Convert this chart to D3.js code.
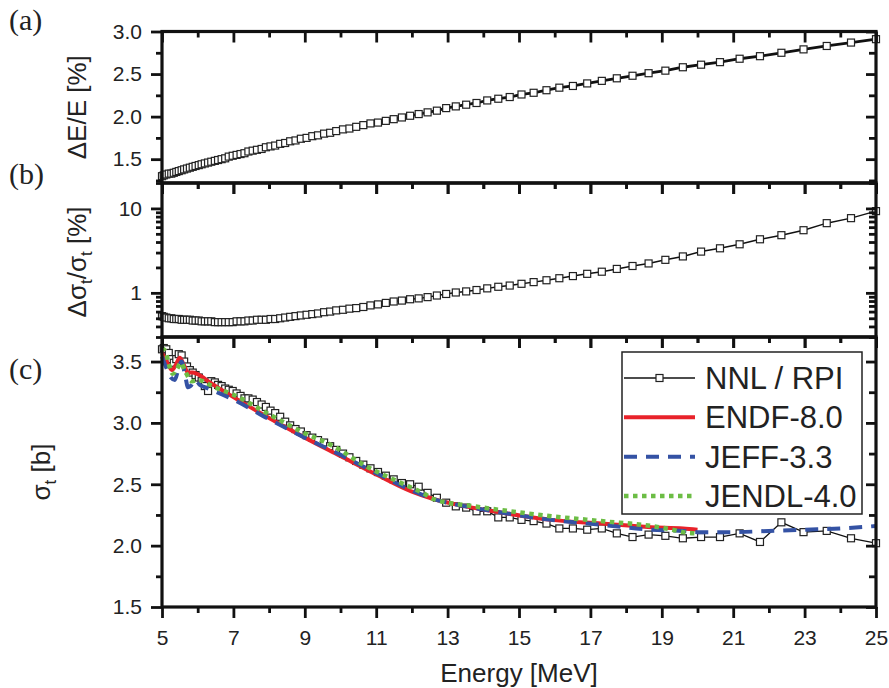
<!DOCTYPE html>
<html>
<head>
<meta charset="utf-8">
<script src="https://cdn.jsdelivr.net/npm/d3@7"></script>
<style>
  body { margin: 0; background: #fff; }
  svg { display: block; font-family: "Liberation Sans", Arial, sans-serif; }
</style>
</head>
<body>
<div id="chart"></div>
<script>
// energy grid of the NNL / RPI points [MeV]
const energy = [5.00, 5.05, 5.12, 5.19, 5.26, 5.33, 5.40, 5.47, 5.55, 5.62, 5.70, 5.78, 5.86, 5.94, 6.03, 6.11, 6.20, 6.29, 6.38, 6.48,
  6.57, 6.67, 6.77, 6.87, 6.98, 7.09, 7.20, 7.31, 7.42, 7.54, 7.66, 7.79, 7.91, 8.04, 8.17, 8.31, 8.45, 8.59, 8.74, 8.89,
  9.05, 9.21, 9.37, 9.54, 9.71, 9.88, 10.07, 10.25, 10.44, 10.64, 10.84, 11.05, 11.27, 11.49, 11.72, 11.95, 12.19, 12.44, 12.70, 12.96,
  13.23, 13.52, 13.81, 14.11, 14.42, 14.74, 15.07, 15.41, 15.77, 16.13, 16.51, 16.91, 17.32, 17.74, 18.18, 18.63, 19.10, 19.59, 20.10, 20.63,
  21.18, 21.75, 22.35, 22.97, 23.62, 24.30, 25.00];

// (a) energy resolution [%]
const dEoverE = [1.30, 1.31, 1.32, 1.33, 1.33, 1.34, 1.35, 1.36, 1.37, 1.38, 1.39, 1.40, 1.41, 1.42, 1.43, 1.44, 1.45, 1.46, 1.47, 1.48,
  1.49, 1.50, 1.51, 1.53, 1.54, 1.55, 1.56, 1.57, 1.59, 1.60, 1.61, 1.62, 1.64, 1.65, 1.66, 1.68, 1.69, 1.71, 1.72, 1.74,
  1.75, 1.77, 1.78, 1.80, 1.81, 1.83, 1.85, 1.86, 1.88, 1.90, 1.92, 1.93, 1.95, 1.97, 1.99, 2.01, 2.03, 2.05, 2.07, 2.10,
  2.12, 2.14, 2.16, 2.19, 2.21, 2.23, 2.26, 2.28, 2.31, 2.34, 2.36, 2.39, 2.42, 2.45, 2.48, 2.51, 2.54, 2.58, 2.61, 2.64,
  2.68, 2.71, 2.75, 2.79, 2.83, 2.87, 2.91];

// (b) relative uncertainty of sigma_t [%]
const dSigma = [0.53, 0.52, 0.51, 0.50, 0.50, 0.49, 0.49, 0.49, 0.48, 0.48, 0.48, 0.48, 0.47, 0.47, 0.47, 0.46, 0.46, 0.46, 0.46, 0.45,
  0.45, 0.45, 0.45, 0.45, 0.45, 0.46, 0.46, 0.46, 0.47, 0.47, 0.48, 0.48, 0.48, 0.49, 0.49, 0.50, 0.51, 0.52, 0.53, 0.54,
  0.55, 0.56, 0.57, 0.59, 0.60, 0.62, 0.63, 0.65, 0.66, 0.68, 0.71, 0.73, 0.76, 0.79, 0.81, 0.84, 0.86, 0.89, 0.93, 0.97,
  1.01, 1.04, 1.08, 1.13, 1.18, 1.22, 1.28, 1.34, 1.41, 1.49, 1.58, 1.68, 1.78, 1.92, 2.08, 2.23, 2.46, 2.70, 3.08, 3.37,
  3.76, 4.31, 4.82, 5.52, 6.69, 7.67, 9.29];

// (c) total cross section [b]
const sigmaT = [3.60, 3.61, 3.60, 3.57, 3.52, 3.49, 3.52, 3.56, 3.55, 3.50, 3.46, 3.43, 3.41, 3.39, 3.37, 3.34, 3.30, 3.26, 3.34, 3.33,
  3.31, 3.30, 3.28, 3.27, 3.26, 3.24, 3.22, 3.20, 3.20, 3.19, 3.17, 3.15, 3.13, 3.10, 3.08, 3.05, 3.01, 2.98, 2.95, 2.93,
  2.90, 2.88, 2.86, 2.84, 2.81, 2.78, 2.75, 2.72, 2.69, 2.66, 2.63, 2.60, 2.57, 2.54, 2.51, 2.50, 2.48, 2.43, 2.39, 2.35,
  2.32, 2.31, 2.28, 2.28, 2.23, 2.23, 2.21, 2.20, 2.18, 2.14, 2.14, 2.13, 2.14, 2.10, 2.07, 2.09, 2.08, 2.06, 2.07, 2.07,
  2.10, 2.03, 2.19, 2.11, 2.12, 2.06, 2.02];

// evaluations [E, sigma]
const endf = [[5.00, 3.57], [5.10, 3.52], [5.20, 3.46], [5.28, 3.43], [5.38, 3.47], [5.50, 3.53], [5.60, 3.48], [5.73, 3.41],
  [5.85, 3.41], [5.98, 3.40], [6.34, 3.33], [7.0, 3.21], [8.0, 3.04], [9.0, 2.88], [10.0, 2.73], [11.0, 2.58], [12.0, 2.44],
  [12.6, 2.38], [13.5, 2.32], [14.5, 2.27], [15.9, 2.21], [17.3, 2.18], [18.7, 2.15], [19.6, 2.14], [20.0, 2.13]];
const jeff = [[5.00, 3.54], [5.12, 3.45], [5.25, 3.37], [5.36, 3.35], [5.45, 3.43], [5.55, 3.50], [5.64, 3.40], [5.73, 3.29],
  [5.80, 3.30], [5.92, 3.35], [6.06, 3.31], [6.3, 3.28], [7.0, 3.19], [8.0, 3.03], [9.0, 2.88], [10.0, 2.74], [11.0, 2.59],
  [12.0, 2.45], [12.6, 2.38], [13.5, 2.32], [14.5, 2.27], [15.9, 2.21], [17.3, 2.17], [18.7, 2.13], [19.6, 2.12], [20.0, 2.11],
  [21.0, 2.11], [22.0, 2.12], [23.0, 2.13], [24.0, 2.14], [25.0, 2.16]];
const jendl = [[5.00, 3.61], [5.10, 3.58], [5.20, 3.47], [5.30, 3.40], [5.42, 3.44], [5.53, 3.49], [5.65, 3.42], [5.84, 3.34],
  [6.0, 3.35], [6.15, 3.34], [6.4, 3.30], [7.0, 3.23], [8.0, 3.07], [8.9, 2.93], [9.8, 2.81], [10.7, 2.65], [11.7, 2.51],
  [12.3, 2.43], [12.6, 2.38], [13.0, 2.35], [13.5, 2.33], [14.5, 2.29], [15.9, 2.24], [17.3, 2.20], [18.7, 2.16], [19.3, 2.13],
  [19.6, 2.11], [20.0, 2.10]];

const xTicks = [5, 7, 9, 11, 13, 15, 17, 19, 21, 23, 25];
const xMinor = [6, 8, 10, 12, 14, 16, 18, 20, 22, 24];
const aTicks = [1.5, 2.0, 2.5, 3.0];
const aMinor = [1.25, 1.75, 2.25, 2.75];
const bTicks = [1, 10];
const bMinor = [0.3, 0.4, 0.5, 0.6, 0.7, 0.8, 0.9, 2, 3, 4, 5, 6, 7, 8, 9, 20];
const cTicks = [1.5, 2.0, 2.5, 3.0, 3.5];
const cMinor = [1.75, 2.25, 2.75, 3.25];

const legendNames = ["NNL / RPI", "ENDF-8.0", "JEFF-3.3", "JENDL-4.0"];
const colors = { endf: "#e8222a", jeff: "#3452a4", jendl: "#6cbd45" };

// layout
const width = 889, height = 688;
const left = 162, right = 876;
const pA = { top: 31.5, bottom: 183 }, pB = { top: 183, bottom: 337 }, pC = { top: 337, bottom: 607 };

const svg = d3.select("#chart").append("svg")
  .attr("width", width)
  .attr("height", height);

svg.append("rect").attr("width", width).attr("height", height).attr("fill", "#fff");

var x = d3.scaleLinear().domain([5, 25]).range([left, right]);
var ya = d3.scaleLinear().domain([1.22, 3.0]).range([pA.bottom, pA.top]);
var yb = d3.scaleLog().domain([0.3, 20]).range([pB.bottom, pB.top]);
var yc = d3.scaleLinear().domain([1.5, 3.7]).range([pC.bottom, pC.top]);

const styleAxis = (g, fontSize) => {
  g.select(".domain").remove();
  g.selectAll(".tick line").attr("stroke", "#111").attr("stroke-width", 2.8);
  g.attr("font-family", null).attr("font-size", fontSize);
  g.selectAll(".tick text").attr("fill", "#222");
};

const drawAxes = (p, y, major, minor, fmt, xLabels) => {
  // bottom
  svg.append("g").attr("transform", "translate(0," + p.bottom + ")")
    .call(d3.axisBottom(x).tickValues(xTicks).tickSize(11).tickSizeOuter(0).tickPadding(12)
      .tickFormat(xLabels ? d3.format("d") : ""))
    .call(g => styleAxis(g, 21));
  svg.append("g").attr("transform", "translate(0," + p.bottom + ")")
    .call(d3.axisBottom(x).tickValues(xMinor).tickSize(6).tickSizeOuter(0).tickFormat(""))
    .call(g => styleAxis(g, 21));
  // top (ticks inside)
  svg.append("g").attr("transform", "translate(0," + p.top + ")")
    .call(d3.axisBottom(x).tickValues(xTicks).tickSize(11).tickSizeOuter(0).tickFormat(""))
    .call(g => styleAxis(g, 21));
  svg.append("g").attr("transform", "translate(0," + p.top + ")")
    .call(d3.axisBottom(x).tickValues(xMinor).tickSize(6).tickSizeOuter(0).tickFormat(""))
    .call(g => styleAxis(g, 21));
  // left
  svg.append("g").attr("transform", "translate(" + left + ",0)")
    .call(d3.axisLeft(y).tickValues(major).tickSize(11).tickSizeOuter(0).tickPadding(9).tickFormat(fmt))
    .call(g => styleAxis(g, 21));
  svg.append("g").attr("transform", "translate(" + left + ",0)")
    .call(d3.axisLeft(y).tickValues(minor).tickSize(6).tickSizeOuter(0).tickFormat(""))
    .call(g => styleAxis(g, 21));
  // right (ticks inside)
  svg.append("g").attr("transform", "translate(" + right + ",0)")
    .call(d3.axisLeft(y).tickValues(major).tickSize(10).tickSizeOuter(0).tickFormat(""))
    .call(g => styleAxis(g, 21));
  svg.append("g").attr("transform", "translate(" + right + ",0)")
    .call(d3.axisLeft(y).tickValues(minor).tickSize(7).tickSizeOuter(0).tickFormat(""))
    .call(g => styleAxis(g, 21));
  // frame
  svg.append("rect")
    .attr("x", left).attr("y", p.top)
    .attr("width", right - left).attr("height", p.bottom - p.top)
    .attr("fill", "none").attr("stroke", "#111").attr("stroke-width", 3.2);
};

const drawSeries = (y, values, lineWidth) => {
  const pts = energy.map((e, i) => [e, values[i]]);
  svg.append("path")
    .datum(pts)
    .attr("fill", "none")
    .attr("stroke", "#111")
    .attr("stroke-width", lineWidth)
    .attr("d", d3.line().x(d => x(d[0])).y(d => y(d[1])));
  svg.append("g").selectAll("rect")
    .data(pts)
    .enter()
    .append("rect")
    .attr("x", d => x(d[0]) - 3.5)
    .attr("y", d => y(d[1]) - 3.5)
    .attr("width", 7)
    .attr("height", 7)
    .attr("fill", "#fff")
    .attr("stroke", "#222")
    .attr("stroke-width", 1.2);
};

// (a)
drawSeries(ya, dEoverE, 2.8);
drawAxes(pA, ya, aTicks, aMinor, d3.format(".1f"), false);

// (b)
drawSeries(yb, dSigma, 1.5);
drawAxes(pB, yb, bTicks, bMinor, d3.format("d"), false);

// (c)
drawSeries(yc, sigmaT, 1.3);
var evalLine = d3.line().curve(d3.curveMonotoneX).x(d => x(d[0])).y(d => yc(d[1]));
svg.append("path").datum(endf)
  .attr("fill", "none").attr("stroke", colors.endf).attr("stroke-width", 4)
  .attr("d", evalLine);
svg.append("path").datum(jeff)
  .attr("fill", "none").attr("stroke", colors.jeff).attr("stroke-width", 4)
  .attr("stroke-dasharray", "13,9")
  .attr("d", evalLine);
svg.append("path").datum(jendl)
  .attr("fill", "none").attr("stroke", colors.jendl).attr("stroke-width", 4.5)
  .attr("stroke-dasharray", "4.5,4.5")
  .attr("d", evalLine);
drawAxes(pC, yc, cTicks, cMinor, d3.format(".1f"), true);

// legend
var lg = svg.append("g");
lg.append("rect")
  .attr("x", 622).attr("y", 352).attr("width", 240).attr("height", 162)
  .attr("fill", "#fff").attr("stroke", "#222").attr("stroke-width", 1.5);
var ly = d3.scalePoint().domain(legendNames).range([378, 496]);
const legendStyle = [
  { stroke: "#111", width: 1.3, dash: null },
  { stroke: colors.endf, width: 4, dash: null },
  { stroke: colors.jeff, width: 4, dash: "13,9" },
  { stroke: colors.jendl, width: 4.5, dash: "4.5,4.5" }
];
legendNames.forEach((name, i) => {
  var s = legendStyle[i];
  lg.append("line")
    .attr("x1", 624).attr("x2", 695)
    .attr("y1", ly(name)).attr("y2", ly(name))
    .attr("stroke", s.stroke).attr("stroke-width", s.width)
    .attr("stroke-dasharray", s.dash);
  if (i === 0) {
    lg.append("rect")
      .attr("x", 656).attr("y", ly(name) - 3.5).attr("width", 7).attr("height", 7)
      .attr("fill", "#fff").attr("stroke", "#222").attr("stroke-width", 1.2);
  }
  lg.append("text")
    .attr("x", 705).attr("y", ly(name) + 11)
    .attr("font-size", 31)
    .attr("fill", "#222")
    .text(name);
});

// axis titles
svg.append("text")
  .attr("transform", "translate(" + (left + right) / 2 + ",682)")
  .attr("text-anchor", "middle").attr("font-size", 26).attr("fill", "#222")
  .text("Energy [MeV]");

svg.append("text")
  .attr("transform", "translate(86," + (pA.top + pA.bottom) / 2 + ") rotate(-90)")
  .attr("text-anchor", "middle").attr("font-size", 26).attr("fill", "#222")
  .text("ΔE/E [%]");

var tb = svg.append("text")
  .attr("transform", "translate(86,262) rotate(-90)")
  .attr("text-anchor", "middle").attr("font-size", 26).attr("fill", "#222");
tb.append("tspan").text("Δσ");
tb.append("tspan").attr("font-size", 17).attr("dy", 6).text("t");
tb.append("tspan").attr("dy", -6).text("/σ");
tb.append("tspan").attr("font-size", 17).attr("dy", 6).text("t");
tb.append("tspan").attr("dy", -6).text(" [%]");

var tc = svg.append("text")
  .attr("transform", "translate(50,472) rotate(-90)")
  .attr("text-anchor", "middle").attr("font-size", 26).attr("fill", "#222");
tc.append("tspan").text("σ");
tc.append("tspan").attr("font-size", 17).attr("dy", 6).text("t");
tc.append("tspan").attr("dy", -6).text(" [b]");

// panel labels
[["(a)", 30], ["(b)", 184], ["(c)", 379]].forEach(d => {
  svg.append("text")
    .attr("x", 9).attr("y", d[1])
    .attr("font-family", "'Liberation Serif', 'Times New Roman', serif")
    .attr("font-size", 30).attr("fill", "#222")
    .text(d[0]);
});
</script>
</body>
</html>
